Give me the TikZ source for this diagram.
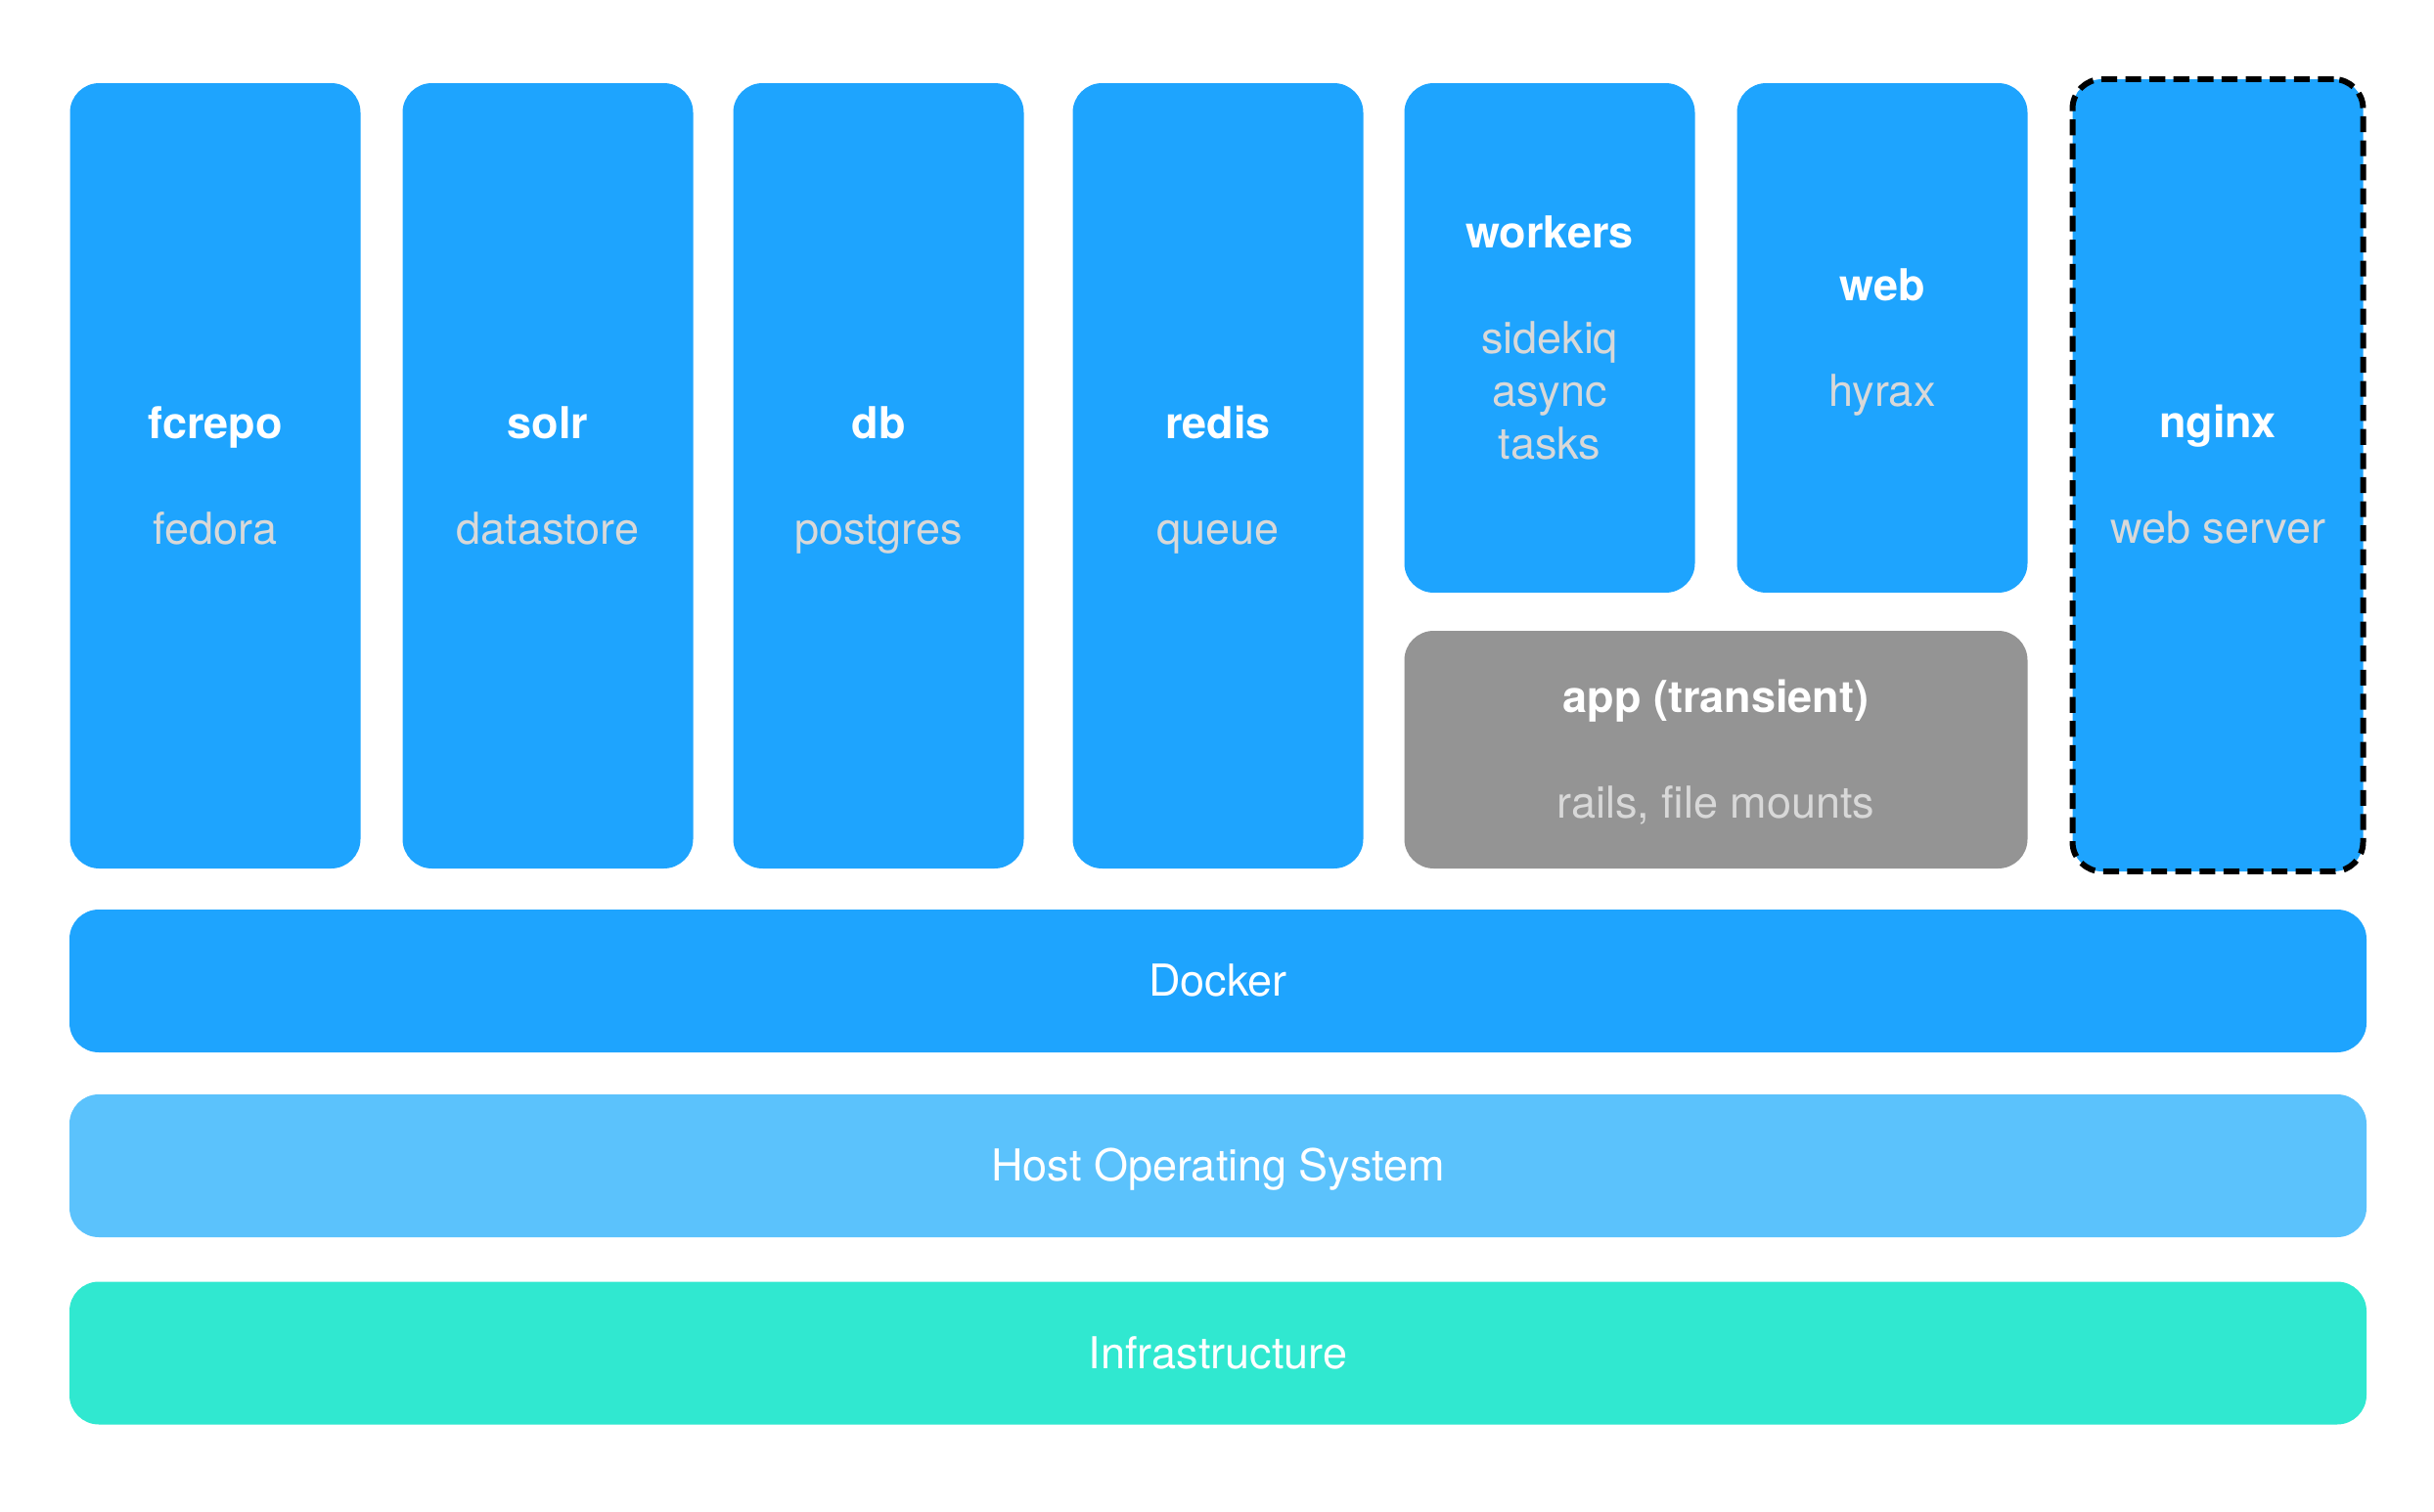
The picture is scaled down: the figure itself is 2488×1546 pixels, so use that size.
\documentclass[tikz,border=0pt]{standalone}
\usepackage{fontspec}
\setmainfont{TeX Gyre Heros}
\definecolor{cblue}{HTML}{1EA4FE}
\definecolor{clight}{HTML}{5BC2FC}
\definecolor{cteal}{HTML}{30E8D0}
\definecolor{cgray}{HTML}{949494}
\definecolor{csub}{HTML}{D8D8D8}
\newcommand{\tallstrut}{\rule{0pt}{13.6pt}\strut}
\newcommand{\ttl}[1]{\tallstrut\textbf{#1}}
\newcommand{\sbt}[1]{\strut{\color{csub}#1}}
\begin{document}
\begin{tikzpicture}[x=0.1mm,y=-0.1mm,
  box/.style={rounded corners=3mm, inner sep=0pt, align=center, text=white,
    font=\fontsize{12.8pt}{15.4pt}\selectfont},
  col/.style={box, fill=cblue, minimum width=29.7mm, minimum height=80.3mm},
  short/.style={box, fill=cblue, minimum width=29.7mm, minimum height=52.1mm},
  layer/.style={box, minimum width=234.8mm, minimum height=14.6mm}]
\useasboundingbox (0,0) rectangle (2488,1546);
\node[col] (fcrepo) at (220,486.5) {\ttl{fcrepo}\\[15.4pt]\sbt{fedora}};
\node[col] (solr) at (560,486.5) {\ttl{solr}\\[15.4pt]\sbt{datastore}};
\node[col] (db) at (898,486.5) {\ttl{db}\\[15.4pt]\sbt{postgres}};
\node[col] (redis) at (1245,486.5) {\ttl{redis}\\[15.4pt]\sbt{queue}};
\node[short] (workers) at (1584,345.5) {\ttl{workers}\\[15.4pt]\sbt{sidekiq}\\\sbt{async}\\\sbt{tasks}};
\node[short] (web) at (1924,345.5) {\ttl{web}\\[15.4pt]\sbt{hyrax}};
\node[box, fill=cgray, minimum width=63.7mm, minimum height=24.3mm] (app) at (1754,766.5) {\ttl{app (transient)}\\[15.4pt]\sbt{rails, file mounts}};
\node[box, fill=cblue, draw=black, line width=1.7pt, dash pattern=on 4.6pt off 2.4pt, minimum width=29.7mm, minimum height=81mm] (nginx) at (2267,486) {\ttl{nginx}\\[15.4pt]\sbt{web server}};
\node[layer, fill=cblue] (docker) at (1245,1003) {\tallstrut Docker};
\node[layer, fill=clight] (host) at (1245,1192) {\tallstrut Host Operating System};
\node[layer, fill=cteal] (infra) at (1245,1383.5) {\tallstrut Infrastructure};
\end{tikzpicture}
\end{document}
